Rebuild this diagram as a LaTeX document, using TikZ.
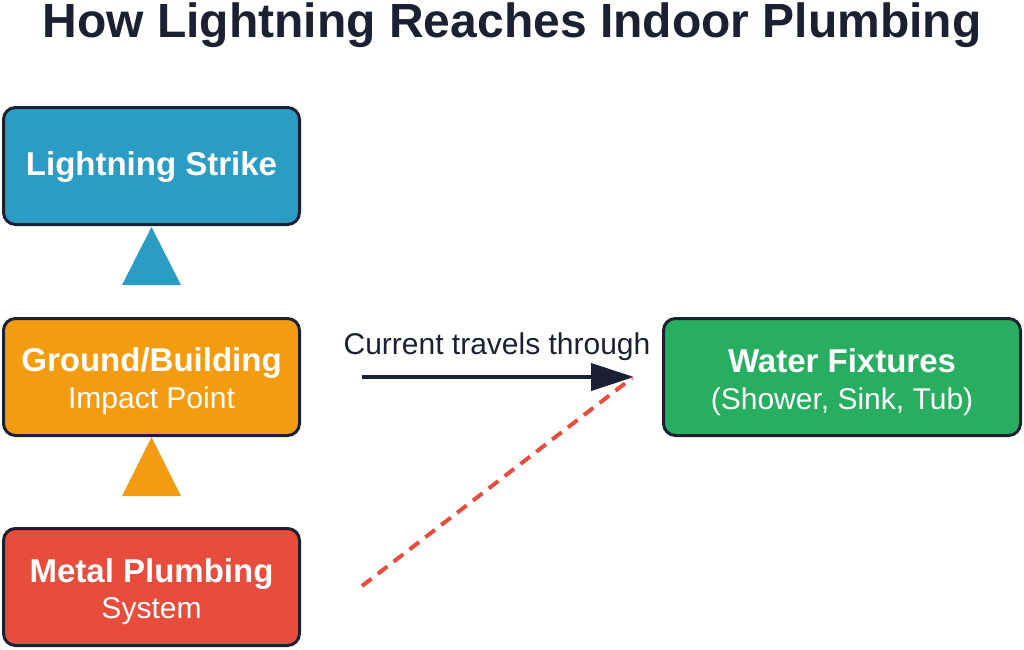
\documentclass[tikz,border=0pt]{standalone}
\usepackage{fontspec}
\setmainfont{Liberation Sans}
\usetikzlibrary{arrows.meta,calc}
\definecolor{cblue}{HTML}{2B9CC4}
\definecolor{corange}{HTML}{F39C12}
\definecolor{cred}{HTML}{E74C3C}
\definecolor{cgreen}{HTML}{27AE60}
\definecolor{cdark}{HTML}{1C2033}
\tikzset{
  box/.style={draw=cdark, line width=3pt, rounded corners=12pt, minimum width=296pt, minimum height=117pt, inner sep=0pt},
  maintxt/.style={text=white, anchor=base, font=\fontsize{33}{39}\selectfont\bfseries, inner sep=0pt},
  subtxt/.style={text=white, anchor=base, font=\fontsize{30}{36}\selectfont, inner sep=0pt},
}
\begin{document}
\begin{tikzpicture}[x=1pt,y=-1pt]
\useasboundingbox (0,0) rectangle (1024,649);
\node[anchor=base, text=cdark, font=\fontsize{48}{56}\selectfont\bfseries, inner sep=0pt] (title) at (512,37) {How Lightning Reaches Indoor Plumbing};
% boxes
\node[box, fill=cblue] (ls) at (151.5,166) {};
\node[box, fill=corange] (gb) at (151.5,377) {};
\node[box, fill=cred] (mp) at (151.5,587) {};
\node[box, fill=cgreen, minimum width=357pt] (wf) at (842,377) {};
% texts
\node[maintxt] (lst) at (151.5,175) {Lightning Strike};
\node[maintxt] (gbt) at (151.5,371) {Ground/Building};
\node[subtxt] (gbs) at (151.5,408) {Impact Point};
\node[maintxt] (mpt) at (151.5,582) {Metal Plumbing};
\node[subtxt] (mps) at (151.5,618) {System};
\node[maintxt] (wft) at (842,372) {Water Fixtures};
\node[subtxt] (wfs) at (842,409) {(Shower, Sink, Tub)};
% triangles
\fill[cblue] ($(ls.south)+(0,1)$) -- ++(29.5,58) -- ++(-59,0) -- cycle;
\fill[corange] ($(gb.south)+(0,0)$) -- ++(29.5,59) -- ++(-59,0) -- cycle;
% arrow
\coordinate (a1) at (362,377);
\coordinate (a2) at (634,377);
\draw[cdark, line width=4pt, -{Triangle[length=43pt,width=27pt]}] (a1) -- (a2);
\node[anchor=base, text=cdark, font=\fontsize{30}{36}\selectfont, inner sep=0pt] (lbl) at (497,354) {Current travels through};
% dashed
\coordinate (d1) at (362,586);
\coordinate (d2) at (632,378);
\draw[cred, line width=4pt, dash pattern=on 12pt off 8pt] (d1) -- (d2);
\end{tikzpicture}
\end{document}
